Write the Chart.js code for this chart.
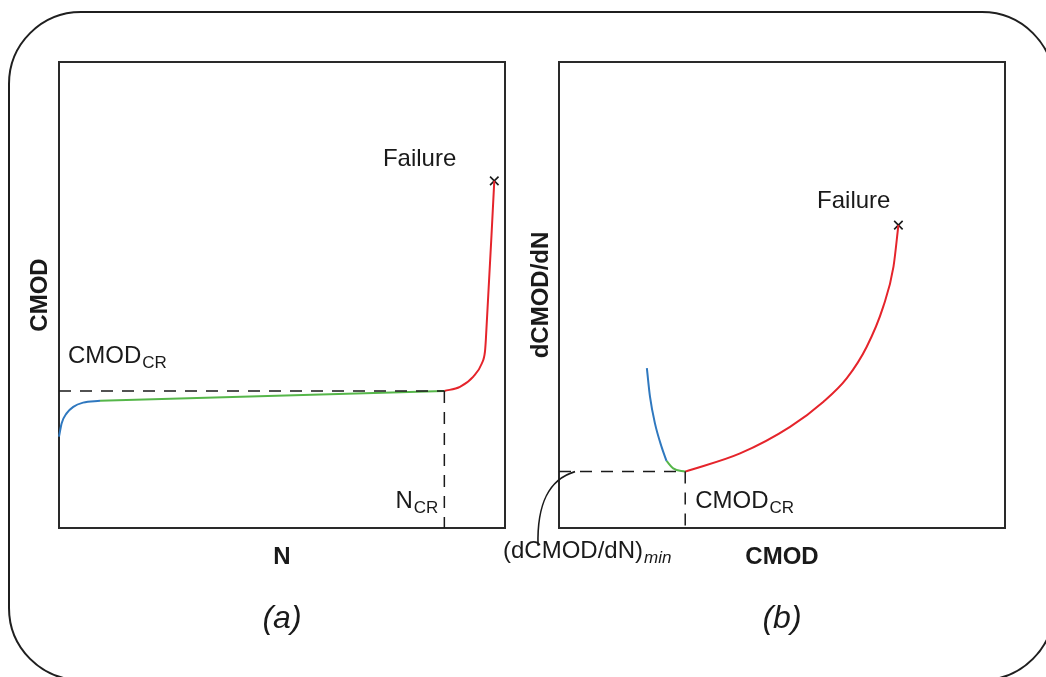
<!DOCTYPE html>
<html><head><meta charset="utf-8">
<script src="https://cdn.jsdelivr.net/npm/chart.js@4.4.1/dist/chart.umd.min.js"></script>
<style>
html,body{margin:0;padding:0;background:#fff;overflow:hidden;}
#wrap{position:relative;width:1046px;height:677px;}
canvas{position:absolute;left:0;top:0;}
</style></head><body>
<div id="wrap"><canvas id="ca" width="1046" height="677"></canvas><canvas id="cb" width="1046" height="677"></canvas></div>
<script>
// ---------- Panel (a): CMOD versus N ----------
const aBlueN     = [0, 0.6, 1.7, 3.2, 5.4, 9.2];
const aBlueCMOD  = [19.6, 22.5, 24.6, 26.0, 26.9, 27.3];
const aGreenN    = [9.2, 86.4];
const aGreenCMOD = [27.3, 29.4];
const aRedN      = [86.4, 89.9, 92.9, 94.8, 95.5, 95.7, 97.6];
const aRedCMOD   = [29.4, 30.3, 32.5, 35.3, 37.8, 40.3, 74.5];
const aFailure   = [97.6, 74.5];   // [N, CMOD]
const aCritical  = [86.4, 29.4];   // [N_CR, CMOD_CR]

// ---------- Panel (b): dCMOD/dN versus CMOD ----------
const bBlueCMOD  = [19.7, 20.4, 21.5, 23.0, 24.1];
const bBlueRate  = [34.3, 28.2, 22.5, 17.4, 14.4];
const bGreenCMOD = [24.1, 25.6, 28.3];
const bGreenRate = [14.4, 12.8, 12.1];
const bRedCMOD   = [28.3, 40.6, 51.8, 59.3, 64.5, 69.0, 72.7, 75.0, 76.1];
const bRedRate   = [12.1, 16.0, 21.7, 27.1, 32.1, 38.9, 47.5, 56.1, 65.0];
const bFailure   = [76.1, 65.0];   // [CMOD, dCMOD/dN]
const bMinimum   = [28.3, 12.1];   // [CMOD_CR, (dCMOD/dN)_min]

const axisRange  = [0, 100];

const FONT = "'Liberation Sans', Arial, Helvetica, sans-serif";
const INK = '#1a1a1a';
const BLUE = '#2f78bf', GREEN = '#55b649', RED = '#e5242b';

function pts(xs, ys){ return xs.map((x, i) => ({x: x, y: ys[i]})); }
function curve(label, xs, ys, color){
  return {label, data: pts(xs, ys), borderColor: color, backgroundColor: color, borderWidth: 2,
          pointRadius: 0, cubicInterpolationMode: 'monotone', fill: false, clip: 4};
}
function dashed(label, p0, p1){
  return {label, data: [p0, p1], borderColor: INK, borderWidth: 1.5, borderDash: [12, 9],
          pointRadius: 0, fill: false, tension: 0};
}
function marker(label, p){
  return {label, data: [{x: p[0], y: p[1]}], showLine: false, pointStyle: 'crossRot', pointRadius: 6,
          borderColor: INK, backgroundColor: INK, borderWidth: 1.6, clip: 10};
}
function subText(ctx, main, sub, x, y, align, o){
  o = o || {};
  const mf = (o.mainStyle || '') + ' ' + (o.mainSize || 24) + 'px ' + FONT;
  const sf = (o.subStyle || '') + ' ' + (o.subSize || 17) + 'px ' + FONT;
  ctx.font = mf; const mw = ctx.measureText(main).width;
  ctx.font = sf; const sw = ctx.measureText(sub).width;
  const x0 = align === 'right' ? x - mw - sw - 1 : x;
  ctx.textAlign = 'left'; ctx.textBaseline = 'alphabetic';
  ctx.font = mf; ctx.fillText(main, x0, y);
  ctx.font = sf; ctx.fillText(sub, x0 + mw + 1, y + 5);
}

const frame = { id: 'frame', beforeDatasetsDraw(chart){
  const {ctx, chartArea: a} = chart;
  ctx.save(); ctx.strokeStyle = '#2a2a2a'; ctx.lineWidth = 2;
  ctx.strokeRect(a.left, a.top, a.right - a.left, a.bottom - a.top);
  ctx.restore();
}};

const outer = { id: 'outer', beforeDraw(chart){
  const ctx = chart.ctx, x = 9, y = 12, w = 1045, h = 668, r = 72;
  ctx.save(); ctx.strokeStyle = '#1f1f1f'; ctx.lineWidth = 2;
  ctx.beginPath();
  ctx.moveTo(x + r, y); ctx.lineTo(x + w - r, y); ctx.arcTo(x + w, y, x + w, y + r, r);
  ctx.lineTo(x + w, y + h - r); ctx.arcTo(x + w, y + h, x + w - r, y + h, r);
  ctx.lineTo(x + r, y + h); ctx.arcTo(x, y + h, x, y + h - r, r);
  ctx.lineTo(x, y + r); ctx.arcTo(x, y, x + r, y, r);
  ctx.closePath(); ctx.stroke(); ctx.restore();
}};

const notesA = { id: 'notesA', afterDatasetsDraw(chart){
  const {ctx, chartArea: a} = chart, sx = chart.scales.x, sy = chart.scales.y;
  ctx.save(); ctx.fillStyle = INK;
  const fx = sx.getPixelForValue(aFailure[0]), fy = sy.getPixelForValue(aFailure[1]);
  ctx.font = '24px ' + FONT; ctx.textAlign = 'right'; ctx.textBaseline = 'alphabetic';
  ctx.fillText('Failure', fx - 38, fy - 15);
  const cy = sy.getPixelForValue(aCritical[1]);
  subText(ctx, 'CMOD', 'CR', a.left + 9, cy - 28, 'left');
  const cx = sx.getPixelForValue(aCritical[0]);
  subText(ctx, 'N', 'CR', cx - 6, a.bottom - 20, 'right');
  ctx.restore();
}};

const notesB = { id: 'notesB', afterDatasetsDraw(chart){
  const {ctx, chartArea: a} = chart, sx = chart.scales.x, sy = chart.scales.y;
  ctx.save(); ctx.fillStyle = INK;
  const fx = sx.getPixelForValue(bFailure[0]), fy = sy.getPixelForValue(bFailure[1]);
  ctx.font = '24px ' + FONT; ctx.textAlign = 'right'; ctx.textBaseline = 'alphabetic';
  ctx.fillText('Failure', fx - 8, fy - 17);
  const cx = sx.getPixelForValue(bMinimum[0]), my = sy.getPixelForValue(bMinimum[1]);
  subText(ctx, 'CMOD', 'CR', cx + 10, a.bottom - 20, 'left');
  // leader curve to the (dCMOD/dN)min label
  ctx.strokeStyle = INK; ctx.lineWidth = 1.6;
  ctx.beginPath();
  ctx.moveTo(a.left + 16, my);
  ctx.bezierCurveTo(a.left - 11, my + 8, a.left - 22, my + 33, a.left - 21, my + 74);
  ctx.stroke();
  subText(ctx, '(dCMOD/dN)', 'min', a.left - 56, a.bottom + 30, 'left', {subStyle: 'italic'});
  ctx.restore();
}};

function scales(xTitle, yTitle, yWidth, yTitlePad){
  const tf = {family: FONT, size: 24, weight: 'bold'};
  return {
    x: {type: 'linear', min: axisRange[0], max: axisRange[1], grid: {display: false}, border: {display: false},
        ticks: {display: false},
        title: {display: true, text: xTitle, color: INK, font: tf, padding: {top: 0, bottom: 28.6}},
        afterFit(s){ s.height = 72; }},
    y: {type: 'linear', min: axisRange[0], max: axisRange[1], grid: {display: false}, border: {display: false},
        ticks: {display: false},
        title: {display: true, text: yTitle, color: INK, font: tf, padding: {top: yTitlePad, bottom: 0}},
        afterFit(s){ s.width = yWidth; }}
  };
}
function plugins(label){
  return {
    legend: {display: false}, tooltip: {enabled: false},
    title: {display: true, text: label, position: 'bottom', fullSize: false, color: INK,
            font: {family: FONT, size: 32, style: 'italic', weight: 'normal'}, padding: {top: 0, bottom: 38.6}}
  };
}

Chart.defaults.font.family = FONT;

new Chart(document.getElementById('ca'), {
  type: 'line',
  data: { datasets: [
    dashed('CMOD_CR', {x: axisRange[0], y: aCritical[1]}, {x: aCritical[0], y: aCritical[1]}),
    dashed('N_CR', {x: aCritical[0], y: aCritical[1]}, {x: aCritical[0], y: axisRange[0]}),
    curve('Stage I', aBlueN, aBlueCMOD, BLUE),
    curve('Stage II', aGreenN, aGreenCMOD, GREEN),
    curve('Stage III', aRedN, aRedCMOD, RED),
    marker('Failure', aFailure)
  ]},
  options: {
    responsive: false, animation: false, events: [],
    layout: {padding: {left: 0, top: 62, right: 541, bottom: 0}},
    scales: scales('N', 'CMOD', 59, 25.6),
    plugins: plugins('(a)')
  },
  plugins: [outer, frame, notesA]
});

new Chart(document.getElementById('cb'), {
  type: 'line',
  data: { datasets: [
    dashed('(dCMOD/dN)min', {x: axisRange[0], y: bMinimum[1]}, {x: bMinimum[0], y: bMinimum[1]}),
    dashed('CMOD_CR', {x: bMinimum[0], y: bMinimum[1]}, {x: bMinimum[0], y: axisRange[0]}),
    curve('Stage I', bBlueCMOD, bBlueRate, BLUE),
    curve('Stage II', bGreenCMOD, bGreenRate, GREEN),
    curve('Stage III', bRedCMOD, bRedRate, RED),
    marker('Failure', bFailure)
  ]},
  options: {
    responsive: false, animation: false, events: [],
    layout: {padding: {left: 480, top: 62, right: 41, bottom: 0}},
    scales: scales('CMOD', 'dCMOD/dN', 79, 46.6),
    plugins: plugins('(b)')
  },
  plugins: [frame, notesB]
});
</script>
</body></html>
